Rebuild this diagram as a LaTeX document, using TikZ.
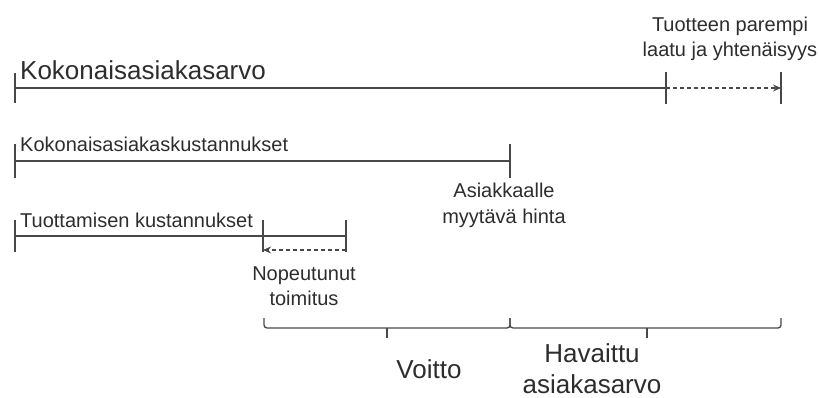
\documentclass[tikz,border=0pt]{standalone}
\usepackage{fontspec}
\setmainfont{Liberation Sans}
\usetikzlibrary{arrows.meta, positioning, calc}
\definecolor{axisgray}{RGB}{72, 72, 72}
\definecolor{textgray}{RGB}{45, 45, 45}
\tikzset{
  barline/.style={draw=axisgray, line width=1.3pt},
  dasharrow/.style={draw=axisgray, line width=1.1pt, dash pattern=on 4pt off 3pt, -{Stealth[length=8pt, width=7pt]}},
  biglbl/.style={font=\fontsize{26}{31}\selectfont, text=textgray, inner sep=0pt, align=center},
  smalllbl/.style={font=\fontsize{20}{25}\selectfont, text=textgray, inner sep=0pt, align=center},
  bracepath/.style={barline, rounded corners=3pt},
}
\begin{document}
\begin{tikzpicture}[x=1pt, y=-1pt]
  \useasboundingbox (0,0) rectangle (819,398);
  % value bars
  \coordinate (a0) at (15,88);
  \coordinate (a1) at (666,88);
  \coordinate (a2) at (781,88);
  \coordinate (b0) at (15,161);
  \coordinate (b1) at (510,161);
  \coordinate (c0) at (15,236);
  \coordinate (c1) at (263,236);
  \coordinate (c2) at (346,236);
  \coordinate (d1) at (263,250);
  \coordinate (d2) at (346,250);
  \foreach \p/\h in {a0/15, a1/16, a2/16, b0/17, b1/17, c0/16, c1/16, c2/16}
    \draw[barline] ($(\p)+(0,-\h)$) -- ($(\p)+(0,\h)$);
  \draw[barline] (a0) -- (a1);
  \draw[dasharrow] (a1) -- (a2);
  \draw[barline] (b0) -- (b1);
  \draw[barline] (c0) -- (c2);
  \draw[dasharrow] (d2) -- (d1);
  % labels
  \node[biglbl, anchor=base west] (tot) at (20,80) {Kokonaisasiakasarvo};
  \node[smalllbl, anchor=base] (qual) at (730,57) {Tuotteen parempi\\laatu ja yhtenäisyys};
  \node[smalllbl, anchor=base west] (cost) at (20,152) {Kokonaisasiakaskustannukset};
  \node[smalllbl, anchor=base] (price) at (504,223) {Asiakkaalle\\myytävä hinta};
  \node[smalllbl, anchor=base west] (prod) at (20,228) {Tuottamisen kustannukset};
  \node[smalllbl, anchor=base] (fast) at (304,305) {Nopeutunut\\toimitus};
  % braces
  \coordinate (e0) at (264,318);
  \coordinate (e1) at (510,318);
  \coordinate (e2) at (781,318);
  \coordinate (t1) at (387,338);
  \coordinate (t2) at (647,338);
  \draw[bracepath] (e0) -- ($(e0)+(0,10)$) -- ($(e1)+(0,10)$) -- (e1);
  \draw[bracepath] (e1) -- ($(e1)+(0,10)$) -- ($(e2)+(0,10)$) -- (e2);
  \draw[barline] (t1) -- ++(0,-10);
  \draw[barline] (t2) -- ++(0,-10);
  \node[biglbl, anchor=base] (gain) at (429,378) {Voitto};
  \node[biglbl, anchor=base] (perc) at (592,393) {Havaittu\\asiakasarvo};
\end{tikzpicture}
\end{document}
